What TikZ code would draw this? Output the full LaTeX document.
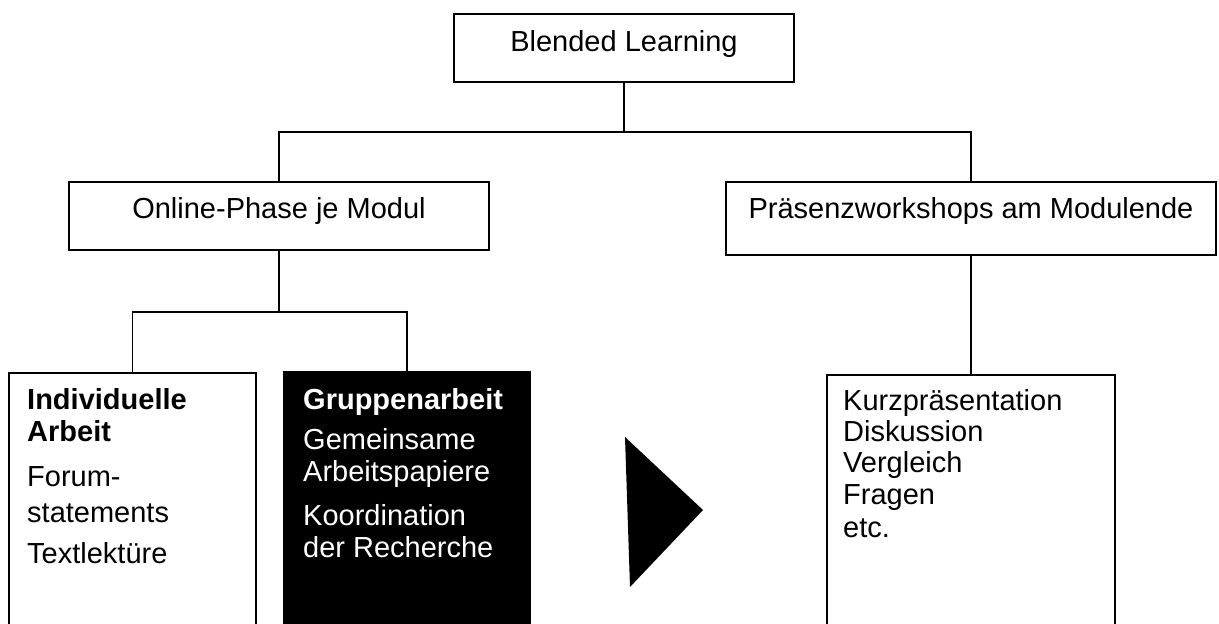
\documentclass[tikz,border=0pt]{standalone}
\usepackage{fontspec}
\setmainfont{Liberation Sans}
\begin{document}
\begin{tikzpicture}[x=1pt,y=-1pt,
  box/.style={draw, rectangle, line width=1.7pt, inner sep=0pt},
  link/.style={line width=1.2pt},
  ctxt/.style={anchor=base, inner sep=0pt, font=\fontsize{29}{35}\selectfont},
  ltxt/.style={anchor=base west, inner sep=0pt, font=\fontsize{29}{35}\selectfont},
  btxt/.style={ltxt, font=\fontsize{29}{35}\selectfont\bfseries},
]
\useasboundingbox (0,0) rectangle (1219,624);
\clip (0,0) rectangle (1219,624);

% boxes of the tree
\node[box, minimum width=340pt, minimum height=68pt] (top) at (624,48) {};
\node[box, minimum width=420pt, minimum height=68pt] (online) at (279,216) {};
\node[box, minimum width=490pt, minimum height=73pt] (praes) at (971,218.5) {};
\node[box, minimum width=247pt, minimum height=277pt] (indiv) at (132.5,511.5) {};
\node[box, fill=black, minimum width=246pt, minimum height=278pt] (group) at (407,511) {};
\node[box, minimum width=288pt, minimum height=275pt] (kurz) at (971,512.5) {};

% junction points of the connectors
\coordinate (j1) at (624,132);
\coordinate (j2) at (279,312);

\draw[link] (top.south) -- (j1);
\draw[link] (online.north) |- (j1) -| (praes.north);
\draw[link] (online.south) -- (j2);
\draw[link] (indiv.north) |- (j2) -| (group.north);
\draw[link] (praes.south) -- (kurz.north);

% arrow head between the two phases
\fill (625,437) -- (703,510) -- (630,587) -- cycle;

% labels
\node[ctxt] (lTop) at (624,51) {Blended Learning};
\node[ctxt] (lOnline) at (279,218) {Online-Phase je Modul};
\node[ctxt] (lPraes) at (971,218) {Präsenzworkshops am Modulende};

\node[btxt] (i1) at (27,409) {Individuelle};
\node[btxt] (i2) at (27,441) {Arbeit};
\node[ltxt] (i3) at (27,486) {Forum-};
\node[ltxt] (i4) at (27,522) {statements};
\node[ltxt] (i5) at (27,563) {Textlektüre};

\node[btxt, text=white] (g1) at (303,409) {Gruppenarbeit};
\node[ltxt, text=white] (g2) at (303,449) {Gemeinsame};
\node[ltxt, text=white] (g3) at (303,481) {Arbeitspapiere};
\node[ltxt, text=white] (g4) at (303,525) {Koordination};
\node[ltxt, text=white] (g5) at (303,557) {der Recherche};

\node[ltxt] (k1) at (843,410) {Kurzpräsentation};
\node[ltxt] (k2) at (843,441) {Diskussion};
\node[ltxt] (k3) at (843,472.5) {Vergleich};
\node[ltxt] (k4) at (843,504.5) {Fragen};
\node[ltxt] (k5) at (843,537) {etc.};
\end{tikzpicture}
\end{document}
